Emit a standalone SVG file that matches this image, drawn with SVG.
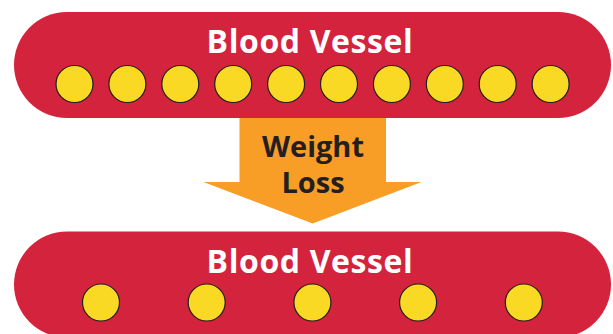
<svg xmlns="http://www.w3.org/2000/svg" width="613" height="334" viewBox="0 0 613 334">
<style>
.vessel{fill:#D4233C;}
.cell{fill:#F9D923;stroke:#231F20;stroke-width:1.2;}
.vt{font-family:"Open Sans","Liberation Sans",sans-serif;font-weight:700;font-size:32px;letter-spacing:0.6px;fill:#FFFFFF;text-anchor:middle;}
.at{font-family:"Open Sans","Liberation Sans",sans-serif;font-weight:700;font-size:29px;fill:#231F20;text-anchor:middle;}
.arrow{fill:#F89D25;}
</style>
<rect width="613" height="334" fill="#FFFFFF"/>
<g id="connectors">
<g id="weight-loss-arrow">
<polygon class="arrow" points="239.5,116 386,116 386,182 421.5,182 312.7,223.5 203.5,182 239.5,182"/>
<text class="at" x="313" y="157">Weight</text>
<text class="at" x="313" y="193">Loss</text>
</g>
</g>
<g id="vessel-top">
<rect class="vessel" x="14" y="12" width="597" height="106" rx="53" ry="53"/>
<text class="vt" x="310" y="53">Blood Vessel</text>
<circle class="cell" cx="74.5" cy="84" r="18.5"/>
<circle class="cell" cx="127.4" cy="84" r="18.5"/>
<circle class="cell" cx="180.3" cy="84" r="18.5"/>
<circle class="cell" cx="233.2" cy="84" r="18.5"/>
<circle class="cell" cx="286.1" cy="84" r="18.5"/>
<circle class="cell" cx="339" cy="84" r="18.5"/>
<circle class="cell" cx="391.9" cy="84" r="18.5"/>
<circle class="cell" cx="444.8" cy="84" r="18.5"/>
<circle class="cell" cx="497.7" cy="84" r="18.5"/>
<circle class="cell" cx="550.6" cy="84" r="18.5"/>
</g>
<g id="vessel-bottom">
<rect class="vessel" x="14" y="231.5" width="597" height="106" rx="53" ry="53"/>
<text class="vt" x="310" y="273">Blood Vessel</text>
<circle class="cell" cx="101" cy="302.5" r="18.5"/>
<circle class="cell" cx="206.7" cy="302.5" r="18.5"/>
<circle class="cell" cx="312.4" cy="302.5" r="18.5"/>
<circle class="cell" cx="418.1" cy="302.5" r="18.5"/>
<circle class="cell" cx="523.8" cy="302.5" r="18.5"/>
</g>
</svg>
